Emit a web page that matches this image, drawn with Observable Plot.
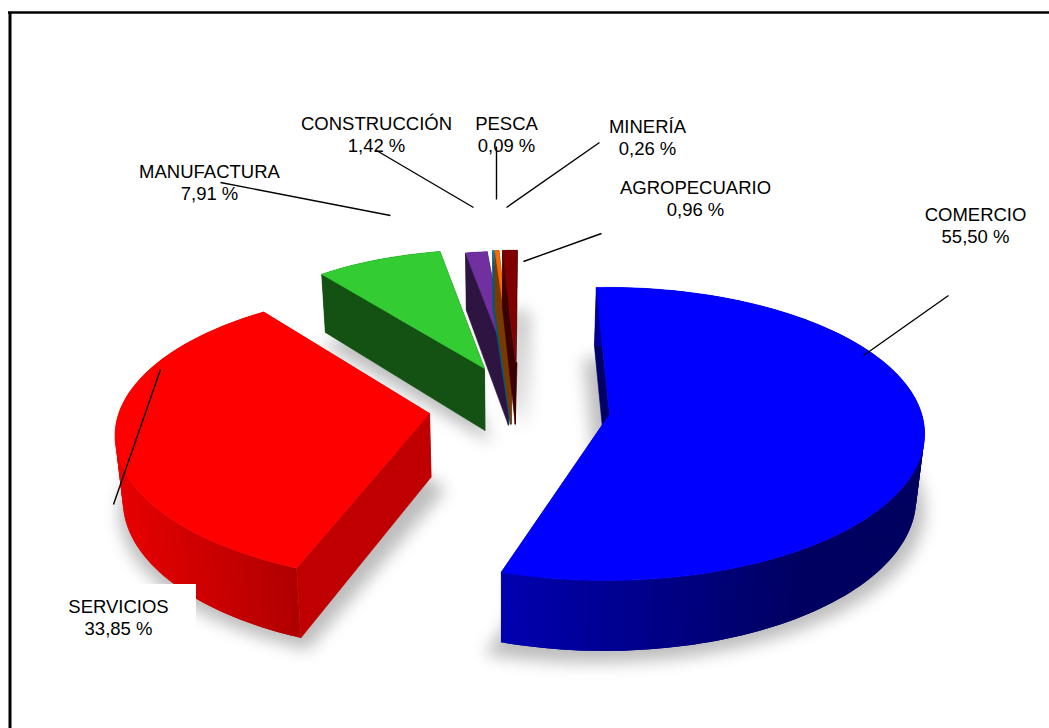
<!DOCTYPE html>
<html>
<head>
<meta charset="utf-8">
<style>html,body{margin:0;padding:0;background:#fff}svg{display:block}</style>
<script src="https://cdn.jsdelivr.net/npm/d3@7"></script>
<script src="https://cdn.jsdelivr.net/npm/@observablehq/plot@0.6"></script>
</head>
<body>
<div id="chart"></div>
<script>
// ---- data ----
const categories = ["COMERCIO","SERVICIOS","MANUFACTURA","CONSTRUCCIÓN","PESCA","MINERÍA","AGROPECUARIO"];
const shares = [55.50,33.85,7.91,1.42,0.09,0.26,0.96];

// ---- styles ----
const topColors  = ["#0000ff","#ff0000","#33cc33","#7030a0","#0a8fb8","#ff6a00","#800000"];
const wallColors = ["#000066","#c00000","#145214","#2e1440","#0a5a70","#7a3a00","#3a0000"];
const rimLeft    = ["#0000b0","#e80000","#145214","#2e1440","#0a5a70","#7a3a00","#3a0000"];
const rimRight   = ["#000060","#b00000","#145214","#2e1440","#0a5a70","#7a3a00","#3a0000"];

// ---- layout of the exploded perspective pie: one entry per slice, same order ----
const rimCx  = [606,432,484,508,510,511,515];
const rimCy  = [421.5,423.5,368,363,362,362,362];
const apexX  = [609,429,484,508,510,511,515];
const apexY  = [414,413,368,363,362,362,362];
const turn   = [-1,4.6,0.9,0.7,1.5,1.5,1.4];   // degrees
const size   = [0.997,0.995,0.87,0.82,0.82,0.82,0.82];
const tipWidth = [0,0,0,0,4,0,3];
const spreadX = 318, spreadY = 146, persp = 0.0815, vanishX = 504, converge = 0.98;
const depthAt = y => 62 + 0.04 * (y - 368);
const firstAngle = -1;

const drop = p => ({x: vanishX + (p.x - vanishX) * converge, y: p.y + depthAt(p.y)});

const arcs = d3.pie().sort(null).startAngle(firstAngle * Math.PI / 180)
  .endAngle((firstAngle + 360) * Math.PI / 180)(shares);

const rimPoint = (i, a) => {
  const u = size[i] * Math.sin(a), v = size[i] * Math.cos(a), w = 1 + persp * v;
  return {x: rimCx[i] + spreadX * u / w, y: rimCy[i] - spreadY * v / w};
};
const mix = (a, b, t) => d3.interpolateRgb(a, b)(Math.max(0, Math.min(1, t)));

const faces = [], shadows = [];
let nid = 0;
const addFace = (pts, fill, edge = fill) => {
  const id = nid++;
  [...pts, pts[0]].forEach(p => faces.push({id, x: p.x, y: p.y, fill, edge}));
};

// back-to-front drawing order
[2,3,4,5,6,1,0].forEach(i => {
  const t = (arcs[i].endAngle - arcs[i].startAngle);
  const a0 = arcs[i].startAngle + turn[i] * Math.PI / 180;
  const n = Math.max(4, Math.round(t * 180 / Math.PI / 1.5));
  const rim = d3.range(n + 1).map(k => rimPoint(i, a0 + t * k / n));
  const apex = {x: apexX[i], y: apexY[i]};
  const low = rim.map(drop), lowApex = drop(apex);
  // shadow footprint
  const small = i > 2;
  const sx = small ? 1.0 : 1.06, sdx = small ? 12 : 0, sdy = small ? 3 : 12;
  const ccx = d3.mean(low, p => p.x);
  shadows.push(...[lowApex, ...low].map(p => ({id: i, x: ccx + (p.x - ccx) * sx + sdx, y: p.y + sdy})));
  // radial walls
  addFace([apex, rim[0], low[0], lowApex], wallColors[i]);
  addFace([apex, rim[n], low[n], lowApex], wallColors[i]);
  if (tipWidth[i]) addFace([{x: apex.x - tipWidth[i] / 2, y: apex.y}, {x: apex.x + tipWidth[i] / 2, y: apex.y}, lowApex], wallColors[i]);
  // rim wall in overlapping strips with a shading gradient
  const xs = d3.extent(low, p => p.x);
  for (let k = 0; k < n; k++) {
    const e = Math.min(n, k + 2);
    const mid = (low[k].x + low[k + 1].x) / 2;
    const pts = [...rim.slice(k, e + 1), ...low.slice(k, e + 1).reverse()];
    addFace(pts, mix(rimLeft[i], rimRight[i], (mid - xs[0]) / (Math.min(xs[1], xs[0] + 300) - xs[0])), "none");
  }
  // top surface
  addFace([apex, ...rim], topColors[i]);
});

// ---- annotation layout ----
const labelX = [975,118,209,376,506,647,695];
const labelY = [224,616,181,133,133,136,197];
const leadX1 = [948,113,220,376,496,599,601];
const leadY1 = [295,504,182,150,146,142,233];
const leadX2 = [863,160,390,473,496,506,523];
const leadY2 = [355,369,215,207,199,207,261];

const labelRows = categories.map((c, i) => ({
  text: `${c}\n${shares[i].toFixed(2).replace(".", ",")} %`, x: labelX[i], y: labelY[i]
}));
const leaders = categories.map((c, i) => ({x1: leadX1[i], y1: leadY1[i], x2: leadX2[i], y2: leadY2[i]}));

const plot = Plot.plot({
  width: 1049, height: 728, margin: 0,
  style: {background: "#fff", fontFamily: "'Liberation Sans', Arial, sans-serif"},
  x: {domain: [0, 1049], range: [0, 1049], axis: null},
  y: {domain: [0, 728], range: [0, 728], axis: null},
  color: {type: "identity"},
  marks: [
    Plot.line(shadows, {x: "x", y: "y", z: "id", fill: "#000", fillOpacity: 0.26, stroke: "none", imageFilter: "blur(8px)"}),
    Plot.line(faces, {x: "x", y: "y", z: "id", fill: "fill", stroke: "edge", strokeWidth: 0.6}),
    Plot.rect([{x1: 60, x2: 196, y1: 584, y2: 640}], {x1: "x1", x2: "x2", y1: "y1", y2: "y2", fill: "#fff"}),
    Plot.link(leaders, {x1: "x1", y1: "y1", x2: "x2", y2: "y2", stroke: "#000", strokeWidth: 1.4}),
    Plot.text(labelRows, {x: "x", y: "y", text: "text", fontSize: 18.5, lineHeight: 1.19, fill: "#000", textAnchor: "middle"}),
    Plot.ruleX([9.5], {y1: 12, y2: 728, stroke: "#000", strokeWidth: 3}),
    Plot.ruleY([12], {x1: 8, x2: 1049, stroke: "#000", strokeWidth: 2.5})
  ]
});
document.getElementById("chart").appendChild(plot);
</script>
</body>
</html>
